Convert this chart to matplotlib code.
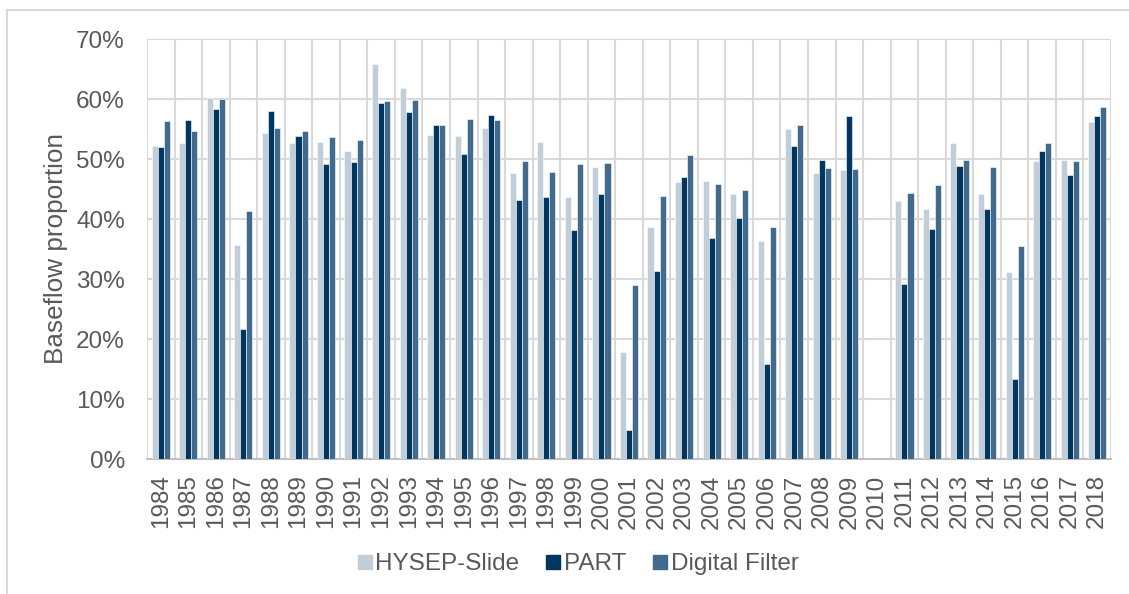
import numpy as np
import matplotlib
matplotlib.use("Agg")
import matplotlib.pyplot as plt
from matplotlib.lines import Line2D
from matplotlib.ticker import PercentFormatter

plt.rcParams['font.family'] = ['Liberation Sans', 'DejaVu Sans']

years = [str(y) for y in range(1984, 2019)]
hysep = [52.2, 52.6, 60.1, 35.6, 54.4, 52.7, 52.9, 51.4, 65.9, 61.8, 54.0, 53.9,
         55.2, 47.6, 52.8, 43.7, 48.6, 17.9, 38.6, 46.1, 46.4, 44.2, 36.3, 55.0,
         47.6, 48.1, np.nan, 43.0, 41.6, 52.7, 44.1, 31.2, 49.7, 49.9, 56.1]
part = [52.0, 56.5, 58.4, 21.7, 58.0, 53.9, 49.2, 49.5, 59.3, 57.8, 55.7, 50.9,
        57.4, 43.2, 43.7, 38.1, 44.2, 4.8, 31.3, 47.0, 36.8, 40.1, 15.9, 52.1,
        49.9, 57.2, np.nan, 29.1, 38.3, 48.9, 41.6, 13.4, 51.4, 47.3, 57.2]
digital = [56.3, 54.7, 60.0, 41.4, 55.2, 54.6, 53.7, 53.2, 59.7, 59.9, 55.6, 56.7,
           56.5, 49.6, 47.8, 49.2, 49.4, 29.0, 43.8, 50.7, 45.8, 44.9, 38.7, 55.6,
           48.5, 48.3, np.nan, 44.4, 45.7, 49.8, 48.6, 35.5, 52.6, 49.6, 58.7]
series_names = ["HYSEP-Slide", "PART", "Digital Filter"]
colors = ["#C1CDD7", "#003660", "#416A8C"]

fs = 17.5
fig = plt.figure(figsize=(11.29, 5.94), dpi=100)
ax = fig.add_axes([147/1129, 1-459/594, (1111-147)/1129, (459-39)/594])

x = np.arange(len(years))
w = 0.22
for i, (vals, c, name) in enumerate(zip([hysep, part, digital], colors, series_names)):
    ax.bar(x + (i-1)*w, vals, width=w, color=c, edgecolor='white', linewidth=0.4,
           label=name, zorder=3)

ax.set_xlim(-0.5, len(years)-0.5)
ax.set_ylim(0, 70)
ax.set_yticks(np.arange(0, 71, 10))
ax.yaxis.set_major_formatter(PercentFormatter(decimals=0))
ax.set_xticks(x)
ax.set_xticklabels(years, rotation=90)
ax.set_xticks(np.arange(-0.5, len(years), 1), minor=True)

grid_c = "#D9D9D9"
ax.grid(axis='y', which='major', color=grid_c, linewidth=1.5, zorder=0)
ax.grid(axis='x', which='minor', color=grid_c, linewidth=1.5, zorder=0)
ax.grid(axis='x', which='major', visible=False)
for s in ['top', 'right', 'left']:
    ax.spines[s].set_visible(False)
ax.spines['bottom'].set_color("#BFBFBF")
ax.spines['bottom'].set_linewidth(1.5)
ax.tick_params(axis='both', which='both', length=0, labelsize=fs, colors="#595959")
ax.tick_params(axis='y', pad=16)
ax.tick_params(axis='x', pad=11)
ax.set_ylabel("Baseflow proportion", fontsize=18.8, color="#595959", labelpad=6)

handles = [Line2D([0], [0], marker='s', linestyle='none', markersize=10,
                  markerfacecolor=c, markeredgecolor=c) for c in colors]
fig.legend(handles, series_names, loc='center', bbox_to_anchor=(578/1129, 1-564/594),
           ncol=3, frameon=False, fontsize=fs, labelcolor="#595959",
           handletextpad=0.13, columnspacing=1.1, handlelength=0.6)

# outer chart border (partially cropped in reference)
fig.add_artist(Line2D([7/1129, 7/1129], [0, 1-10/594], transform=fig.transFigure,
                      color="#D9D9D9", linewidth=1.5))
fig.add_artist(Line2D([7/1129, 1], [1-10/594, 1-10/594], transform=fig.transFigure,
                      color="#D9D9D9", linewidth=1.5))

fig.savefig("out.png", dpi=100)
